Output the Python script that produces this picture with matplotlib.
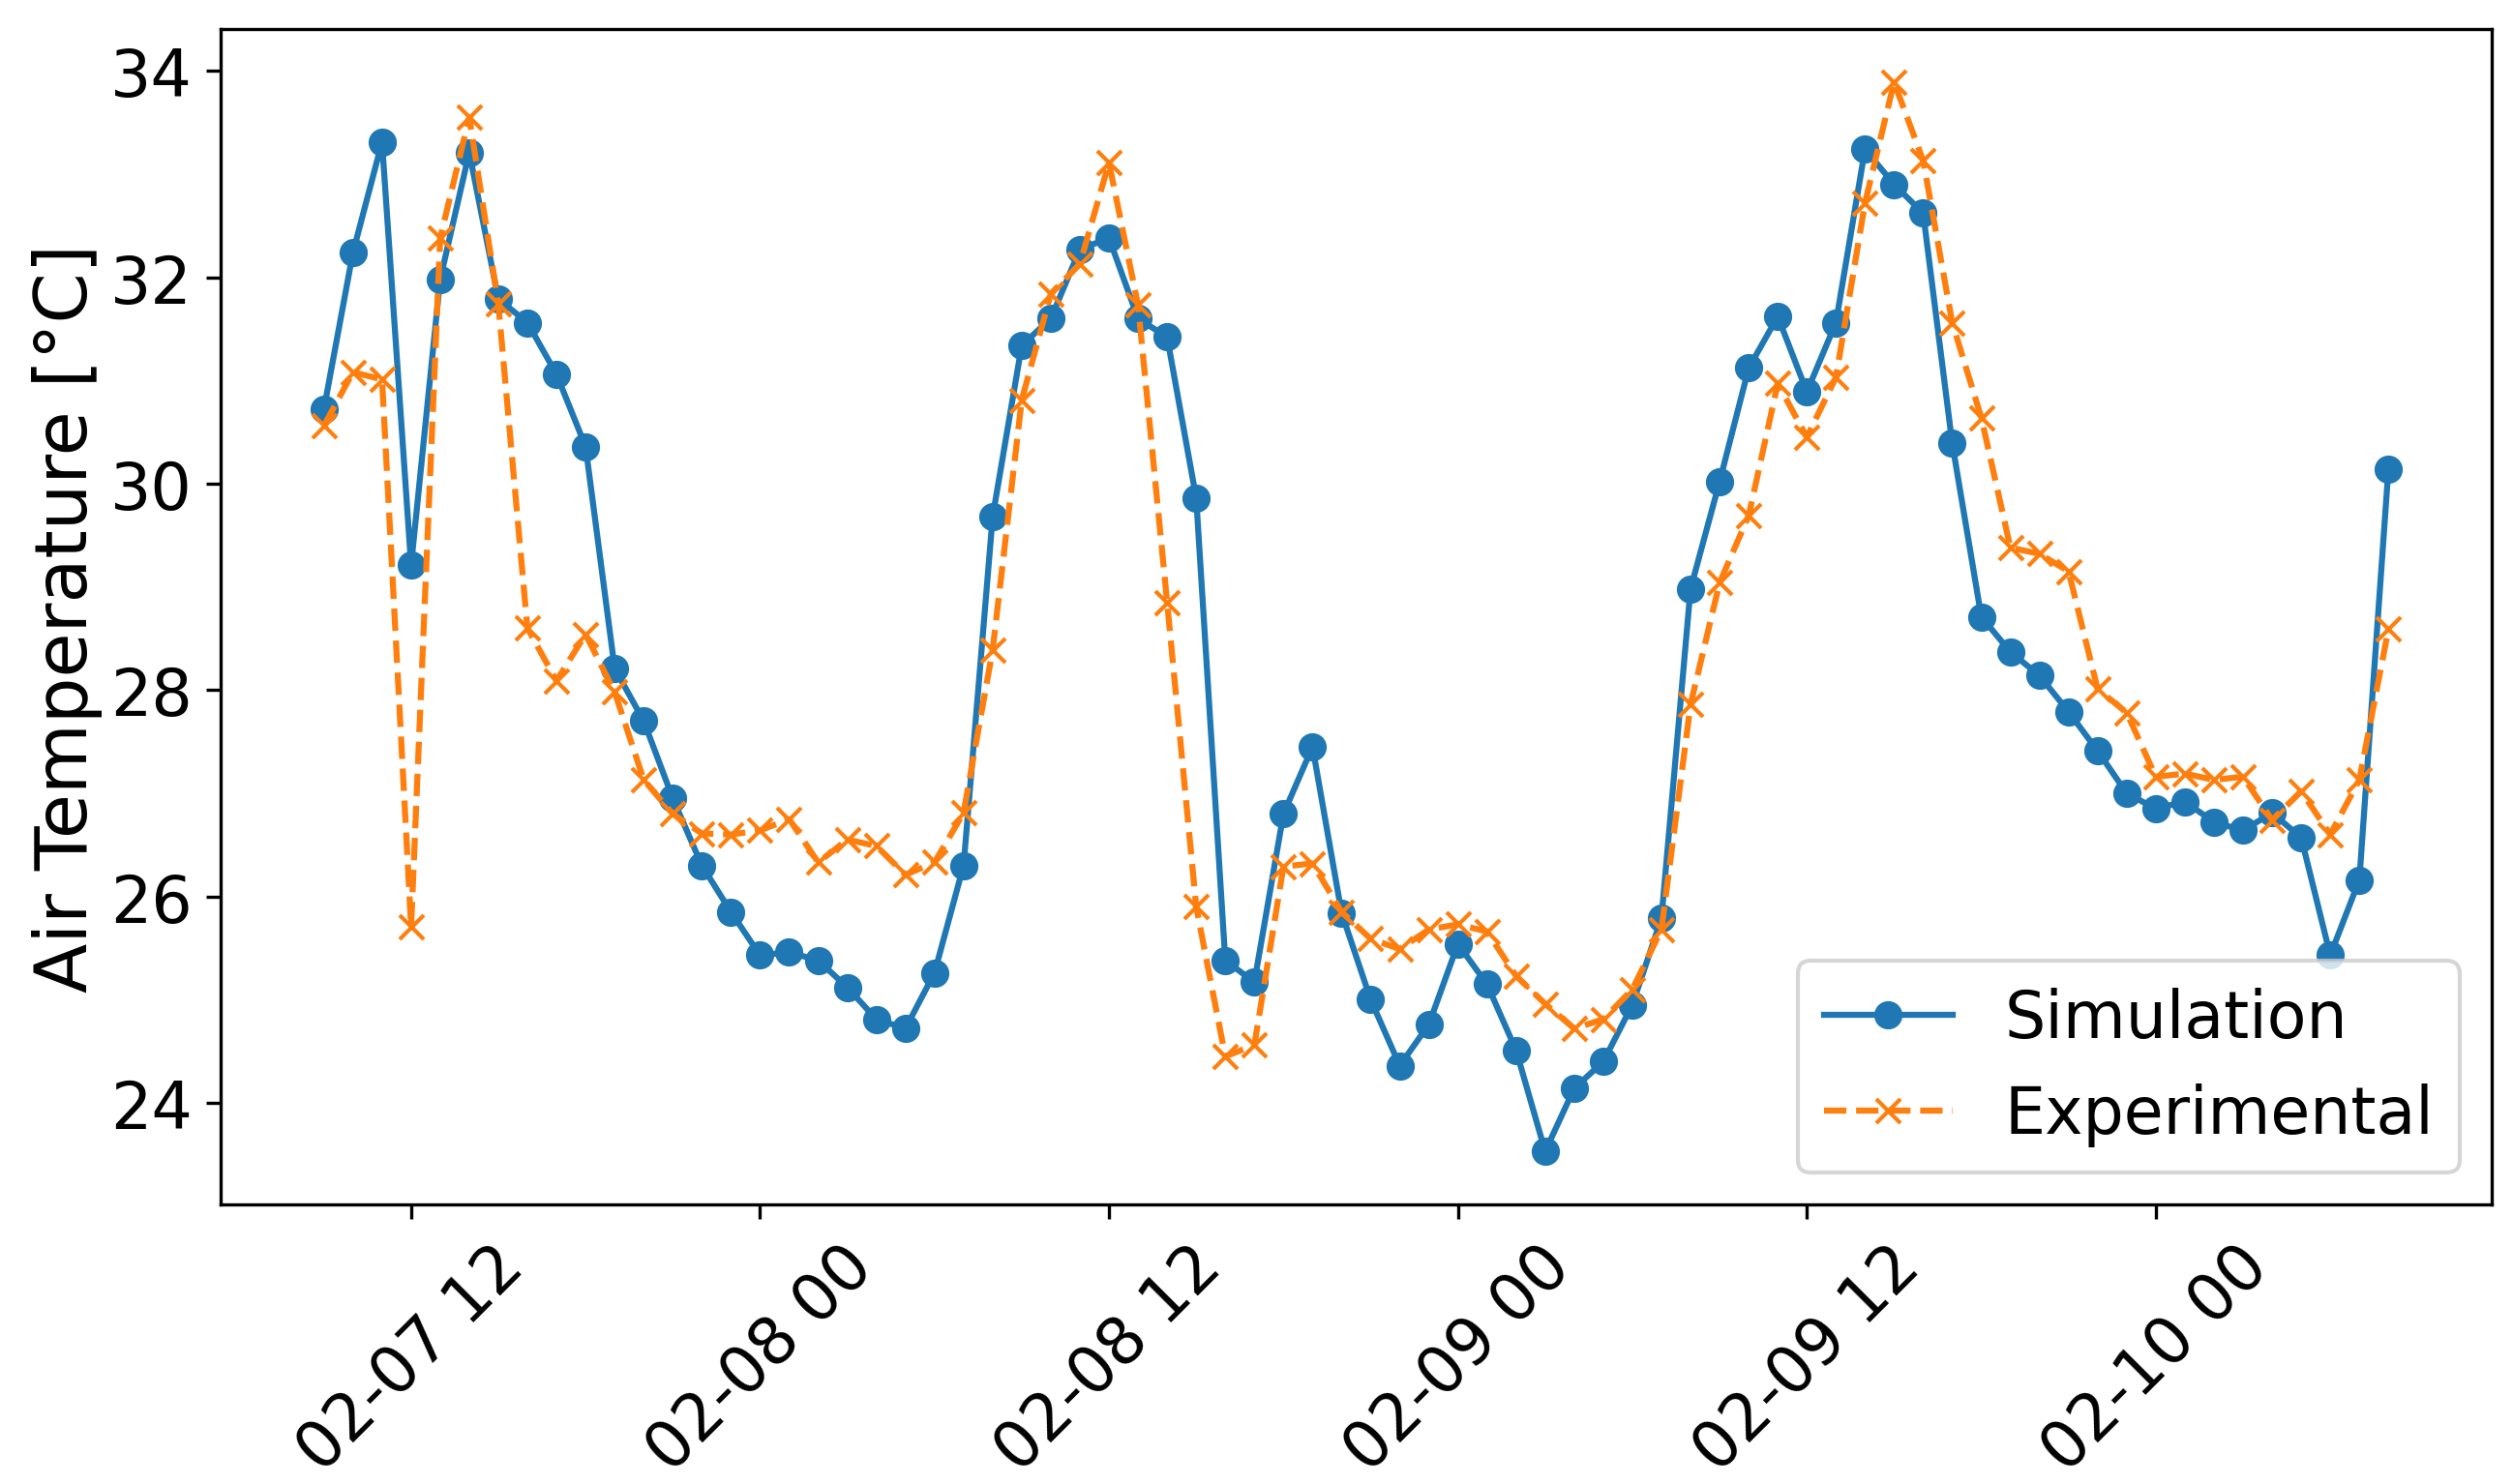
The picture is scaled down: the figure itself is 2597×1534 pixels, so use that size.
import numpy as np
import pandas as pd
import matplotlib
matplotlib.use("Agg")
import matplotlib.pyplot as plt
import matplotlib.dates as mdates

# hourly timestamps, 02-07 09:00 .. 02-10 08:00
times = pd.date_range("2023-02-07 09:00", periods=72, freq="h")

simulation = [
    30.72, 32.24, 33.31, 29.21, 31.98, 33.21, 31.79, 31.56, 31.06, 30.36,
    28.21, 27.70, 26.95, 26.30, 25.85, 25.43, 25.46, 25.38, 25.12, 24.81,
    24.72, 25.26, 26.30, 29.68, 31.34, 31.60, 32.27, 32.38, 31.60, 31.42,
    29.86, 25.38, 25.17, 26.80, 27.45, 25.84, 25.00, 24.36, 24.76, 25.54,
    25.15, 24.51, 23.53, 24.14, 24.40, 24.95, 25.79, 28.98, 30.02, 31.12,
    31.62, 30.89, 31.56, 33.24, 32.90, 32.62, 30.39, 28.71, 28.37, 28.14,
    27.79, 27.41, 27.00, 26.85, 26.92, 26.72, 26.64, 26.81, 26.57, 25.43,
    26.16, 30.14,
]

experimental = [
    30.56, 31.08, 31.01, 25.71, 32.38, 33.55, 31.74, 28.60, 28.09, 28.54,
    27.98, 27.13, 26.80, 26.61, 26.60, 26.64, 26.75, 26.33, 26.55, 26.49,
    26.21, 26.33, 26.81, 28.39, 30.81, 31.84, 32.13, 33.11, 31.73, 28.85,
    25.90, 24.45, 24.56, 26.29, 26.32, 25.85, 25.59, 25.49, 25.68, 25.73,
    25.66, 25.23, 24.96, 24.72, 24.81, 25.10, 25.68, 27.86, 29.04, 29.69,
    30.97, 30.45, 31.03, 32.72, 33.89, 33.13, 31.56, 30.64, 29.38, 29.32,
    29.15, 28.01, 27.78, 27.16, 27.19, 27.13, 27.16, 26.74, 27.02, 26.60,
    27.13, 28.59,
]

fig = plt.figure(figsize=(2597 / 300, 1535 / 300), dpi=300)
ax = fig.add_axes([0.0878, 0.188, 0.9037, 0.792])

ax.plot(times, simulation, "o-", label="Simulation")
ax.plot(times, experimental, "x--", label="Experimental")

ax.xaxis.set_major_locator(mdates.HourLocator(byhour=[0, 12]))
ax.xaxis.set_major_formatter(mdates.DateFormatter("%m-%d %H"))
ax.tick_params(axis="both", labelsize=16)
plt.setp(ax.get_xticklabels(), rotation=45)

ax.set_ylabel("Air Temperature [°C]", fontsize=18, labelpad=2)
ax.legend(loc="lower right", fontsize=16)

fig.savefig("out.png", dpi=300)
